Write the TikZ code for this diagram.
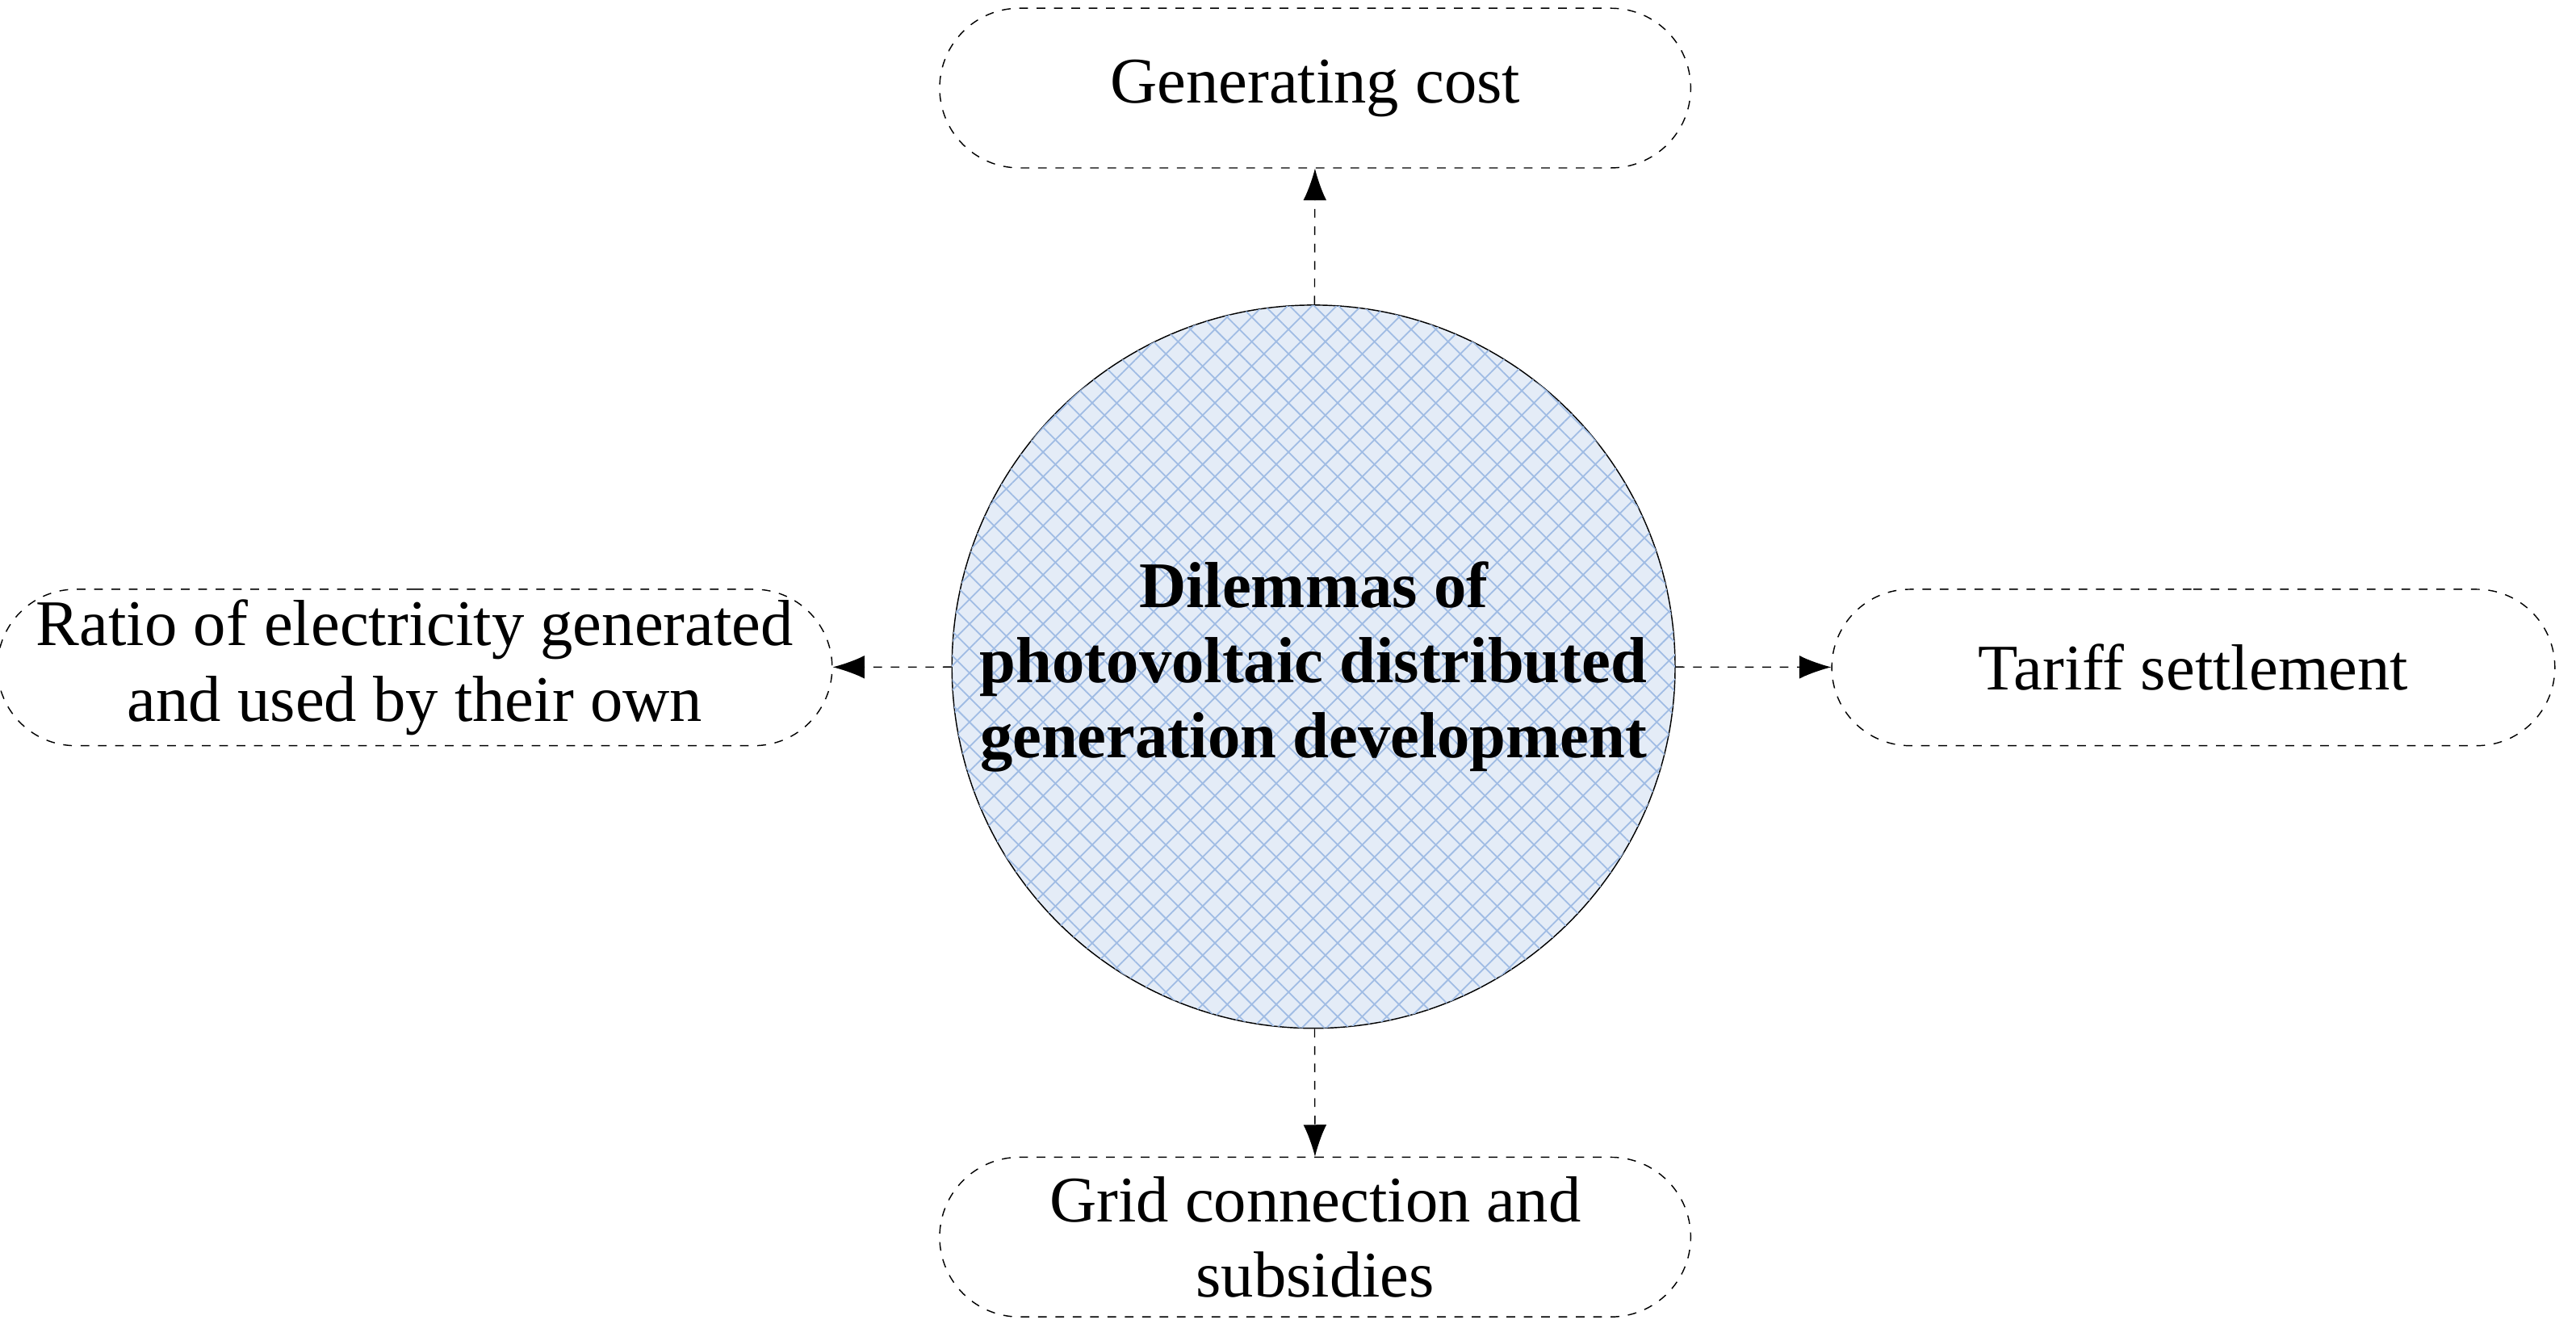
\documentclass[tikz,border=0pt]{standalone}
\usepackage{fontspec}
\setmainfont{Liberation Serif}
\usetikzlibrary{shapes.misc,patterns.meta,arrows.meta}
\definecolor{hatch}{RGB}{160,188,228}
\definecolor{hatchbg}{RGB}{228,236,247}
\begin{document}
\begin{tikzpicture}[>={Latex[length=11pt,width=8pt]},
  box/.style={rounded rectangle, draw, dashed, thin, align=center,
    font=\fontsize{22.5}{26}\selectfont},
  link/.style={->, dashed, thin}]
\useasboundingbox (0,0) rectangle (31.3,-16.08);

\node [circle, draw, thin, minimum size=8.44cm, fill=hatchbg, align=center,
  font=\bfseries\fontsize{22.5}{26}\selectfont,
  postaction={pattern={Lines[angle=45,distance=6pt,line width=0.5pt]}, pattern color=hatch},
  postaction={pattern={Lines[angle=-45,distance=6pt,line width=0.5pt]}, pattern color=hatch}]
  (dilemma) at (15.96,-8.1) {Dilemmas of\\photovoltaic distributed\\generation development};

\node [box, minimum width=9.36cm, minimum height=1.94cm] (cost) at (15.98,-1.07) {Generating cost};
\node [box, minimum width=9.6cm, minimum height=1.9cm, inner xsep=0pt] (ratio) at (5.04,-8.11)
  {Ratio of electricity generated\\and used by their own};
\node [box, minimum width=9.02cm, minimum height=1.9cm] (tariff) at (26.65,-8.11) {Tariff settlement};
\node [box, minimum width=9.36cm, minimum height=1.94cm] (grid) at (15.98,-15.03)
  {Grid connection and\\subsidies};

\draw [link] (dilemma) -- (cost);
\draw [link] (dilemma) -- (ratio);
\draw [link] (dilemma) -- (tariff);
\draw [link] (dilemma) -- (grid);

\end{tikzpicture}
\end{document}
